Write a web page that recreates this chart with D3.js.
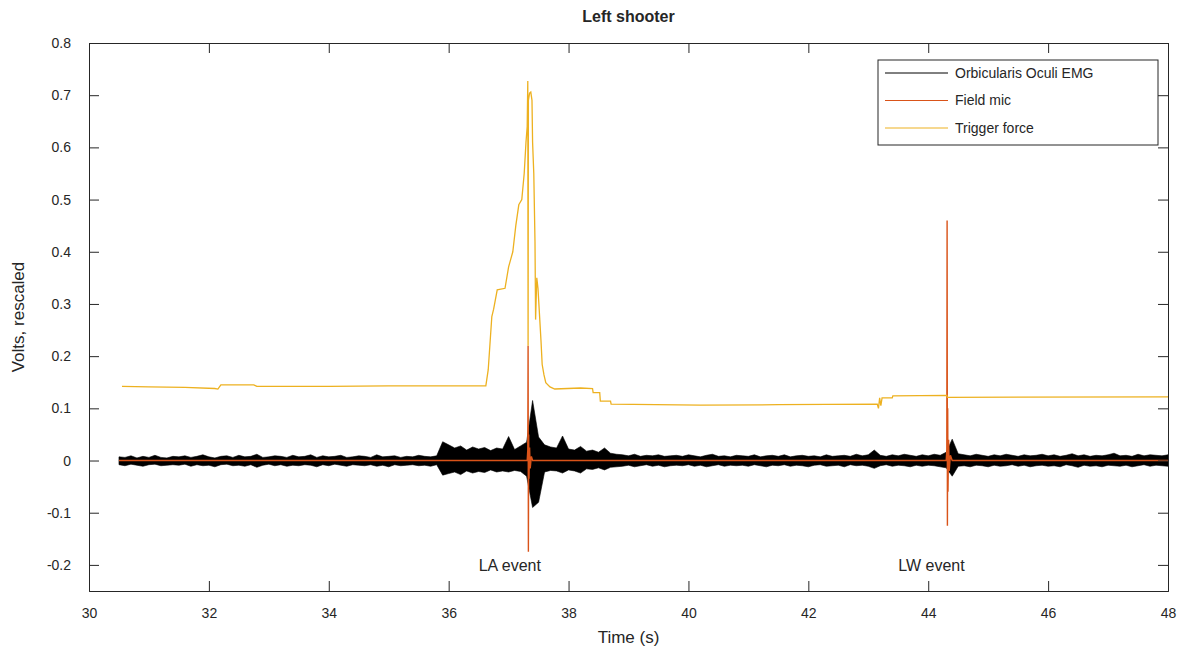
<!DOCTYPE html>
<html lang="en">
<head>
<meta charset="UTF-8">
<title>Left shooter</title>
<style>
  body { margin: 0; background: #fff; }
  text { font-family: "Liberation Sans", Arial, sans-serif; fill: #262626; }
</style>
</head>
<body>
<script src="https://cdn.jsdelivr.net/npm/d3@7"></script>
<div id="chart"></div>
<script>
// EMG envelope, one pair of peaks every 0.1 s from 30.5 s
const emgStart = 30.5, emgStep = 0.1;
const emgHigh = [
  0.007,0.006,0.009,0.005,0.008,0.006,0.010,0.006,0.005,0.008,
  0.007,0.009,0.006,0.008,0.011,0.007,0.005,0.008,0.009,0.006,
  0.010,0.007,0.008,0.012,0.006,0.007,0.009,0.008,0.006,0.010,
  0.007,0.008,0.011,0.006,0.009,0.007,0.008,0.010,0.006,0.007,
  0.009,0.008,0.006,0.011,0.007,0.008,0.009,0.006,0.008,0.007,
  0.010,0.008,0.007,0.009,
  0.036,0.030,0.024,0.028,0.020,0.026,0.022,0.025,0.019,0.024,
  0.022,0.046,0.021,0.028,0.035,0.115,0.045,0.030,0.026,0.024,
  0.047,0.022,0.020,0.027,0.018,0.020,0.016,0.024,0.014,0.012,
  0.011,0.009,0.012,0.008,0.010,0.009,0.011,0.008,0.009,0.010,
  0.008,0.011,0.009,0.007,0.010,0.012,0.008,0.009,0.007,0.010,
  0.009,0.008,0.011,0.007,0.009,0.010,0.008,0.011,0.007,0.009,
  0.010,0.008,0.009,0.007,0.011,0.008,0.009,0.010,0.008,0.012,
  0.009,0.011,0.020,0.010,0.008,0.011,0.009,0.012,0.010,0.008,
  0.011,0.009,0.012,0.010,0.016,0.041,0.013,0.011,0.009,0.012,
  0.010,0.008,0.011,0.009,0.012,0.010,0.008,0.011,0.009,0.010,
  0.012,0.009,0.011,0.008,0.010,0.013,0.009,0.011,0.008,0.010,
  0.009,0.011,0.014,0.009,0.010,0.008,0.012,0.009,0.011,0.010,
  0.009,0.011
];
const emgLow = [
  -0.008,-0.010,-0.007,-0.009,-0.011,-0.008,-0.007,-0.010,-0.009,-0.008,
  -0.009,-0.007,-0.011,-0.008,-0.010,-0.009,-0.012,-0.008,-0.007,-0.010,
  -0.009,-0.011,-0.008,-0.013,-0.009,-0.007,-0.010,-0.008,-0.011,-0.009,
  -0.010,-0.008,-0.009,-0.012,-0.008,-0.010,-0.007,-0.009,-0.011,-0.008,
  -0.009,-0.010,-0.008,-0.011,-0.009,-0.012,-0.008,-0.010,-0.009,-0.008,
  -0.010,-0.009,-0.011,-0.008,
  -0.028,-0.025,-0.022,-0.027,-0.020,-0.024,-0.021,-0.023,-0.018,-0.022,
  -0.020,-0.022,-0.019,-0.021,-0.030,-0.090,-0.080,-0.022,-0.019,-0.020,
  -0.024,-0.018,-0.020,-0.024,-0.016,-0.017,-0.014,-0.018,-0.013,-0.012,
  -0.011,-0.009,-0.012,-0.010,-0.008,-0.011,-0.009,-0.012,-0.010,-0.009,
  -0.010,-0.008,-0.011,-0.009,-0.012,-0.010,-0.008,-0.011,-0.009,-0.010,
  -0.009,-0.011,-0.008,-0.010,-0.012,-0.009,-0.010,-0.008,-0.011,-0.009,
  -0.010,-0.012,-0.009,-0.008,-0.011,-0.010,-0.009,-0.012,-0.008,-0.010,
  -0.009,-0.011,-0.015,-0.010,-0.008,-0.011,-0.009,-0.010,-0.012,-0.009,
  -0.011,-0.009,-0.010,-0.012,-0.014,-0.030,-0.011,-0.010,-0.012,-0.009,
  -0.010,-0.012,-0.009,-0.011,-0.010,-0.008,-0.011,-0.009,-0.012,-0.010,
  -0.009,-0.011,-0.010,-0.012,-0.008,-0.010,-0.013,-0.009,-0.011,-0.010,
  -0.012,-0.009,-0.010,-0.011,-0.009,-0.012,-0.010,-0.008,-0.011,-0.009,
  -0.010,-0.011
];

// field mic
const micTime = [30.5, 37.31, 37.32, 37.325, 37.33, 37.335, 37.34, 37.35, 37.36, 37.38, 37.40,
                 44.30, 44.31, 44.315, 44.32, 44.325, 44.33, 44.34, 44.35, 44.37, 44.40, 48.0];
const micValue = [0, 0, 0.02, 0.22, -0.175, 0.05, -0.035, 0.025, -0.015, 0.008, 0,
                  0, 0.02, 0.46, -0.125, 0.10, -0.06, 0.04, -0.02, 0.01, 0, 0];

// trigger force
const trigTime = [30.55, 31.0, 31.6, 32.1, 32.15, 32.2, 32.75, 32.8, 34.0, 35.0, 36.0, 36.62,
  36.66, 36.72, 36.75, 36.81, 36.94, 37.0, 37.07, 37.12, 37.17, 37.22, 37.26, 37.29, 37.31,
  37.32, 37.325, 37.33, 37.35, 37.37, 37.39, 37.40, 37.42, 37.44, 37.45, 37.47, 37.49, 37.52,
  37.54, 37.56, 37.59, 37.62, 37.69, 37.77, 38.2, 38.4, 38.41, 38.52, 38.53, 38.70, 38.71,
  40.2, 41.5, 43.15, 43.17, 43.19, 43.21, 43.23, 43.40, 43.41, 44.31, 44.32, 48.0];
const trigValue = [0.142, 0.141, 0.140, 0.138, 0.137, 0.145, 0.145, 0.142, 0.142, 0.143, 0.143, 0.143,
  0.174, 0.276, 0.29, 0.327, 0.33, 0.371, 0.40, 0.45, 0.49, 0.50, 0.55, 0.61, 0.64,
  0.727, 0.22, 0.69, 0.704, 0.706, 0.69, 0.61, 0.55, 0.42, 0.27, 0.35, 0.33, 0.27,
  0.23, 0.184, 0.164, 0.149, 0.141, 0.137, 0.139, 0.138, 0.13, 0.13, 0.114, 0.114, 0.108,
  0.106, 0.107, 0.108, 0.10, 0.12, 0.105, 0.12, 0.12, 0.124, 0.125, 0.121, 0.122];

const seriesNames = ["Orbicularis Oculi EMG", "Field mic", "Trigger force"];
const seriesColors = ["#000000", "#D95319", "#EDB120"];

const eventLabels = ["LA event", "LW event"];
const eventLabelX = [36.5, 43.5];
const eventLabelY = -0.2;

const xTicks = [30, 32, 34, 36, 38, 40, 42, 44, 46, 48];
const yTicks = [-0.2, -0.1, 0, 0.1, 0.2, 0.3, 0.4, 0.5, 0.6, 0.7, 0.8];

const W = 1183, H = 652;
const margin = {top: 43, right: 15, bottom: 61, left: 89};

const svg = d3.select("#chart").append("svg")
  .attr("width", W).attr("height", H);

const x = d3.scaleLinear().domain([30, 48]).range([margin.left, W - margin.right]);
const y = d3.scaleLinear().domain([-0.25, 0.8]).range([H - margin.bottom, margin.top]);

const plot = svg.append("g");
plot.append("clipPath").attr("id", "clip").append("rect")
  .attr("x", x(30)).attr("y", y(0.8)).attr("width", x(48) - x(30)).attr("height", y(-0.25) - y(0.8));
const lines = plot.append("g").attr("clip-path", "url(#clip)");

// EMG as a filled band between upper and lower peaks
const emg = emgHigh.map((h, i) => ({t: emgStart + i * emgStep, hi: h, lo: emgLow[i]}));
lines.append("path")
  .datum(emg)
  .attr("fill", seriesColors[0])
  .attr("stroke", seriesColors[0])
  .attr("stroke-width", 0.6)
  .attr("d", d3.area().x(d => x(d.t)).y0(d => y(d.lo)).y1(d => y(d.hi)));

lines.append("path")
  .datum(micTime.map((t, i) => [t, micValue[i]]))
  .attr("fill", "none")
  .attr("stroke", seriesColors[1])
  .attr("stroke-width", 1.4)
  .attr("d", d3.line().x(d => x(d[0])).y(d => y(d[1])));

lines.append("path")
  .datum(trigTime.map((t, i) => [t, trigValue[i]]))
  .attr("fill", "none")
  .attr("stroke", seriesColors[2])
  .attr("stroke-width", 1.3)
  .attr("d", d3.line().x(d => x(d[0])).y(d => y(d[1])));

// axes, MATLAB box with ticks pointing inside
const axCol = "#262626";
const fmt = d => d === 0 ? "0" : d3.format(".1f")(d).replace("\u2212", "-");
const gx = svg.append("g").attr("transform", `translate(0,${y(-0.25)})`)
  .call(d3.axisBottom(x).tickValues(xTicks).tickSize(-10).tickPadding(17).tickFormat(d3.format("d")));
const gxt = svg.append("g").attr("transform", `translate(0,${y(0.8)})`)
  .call(d3.axisTop(x).tickValues(xTicks).tickSize(-10).tickFormat(""));
const gy = svg.append("g").attr("transform", `translate(${x(30)},0)`)
  .call(d3.axisLeft(y).tickValues(yTicks).tickSize(-10).tickPadding(18).tickFormat(fmt));
const gyr = svg.append("g").attr("transform", `translate(${x(48)},0)`)
  .call(d3.axisRight(y).tickValues(yTicks).tickSize(-10).tickFormat(""));
[gx, gxt, gy, gyr].forEach(g => {
  g.select(".domain").attr("stroke", axCol);
  g.selectAll(".tick line").attr("stroke", axCol);
  g.selectAll(".tick text").attr("font-size", 14).attr("fill", axCol)
    .attr("font-family", "Liberation Sans, Arial, sans-serif");
});

// event labels
svg.selectAll(".evt").data(eventLabels).join("text")
  .attr("class", "evt")
  .attr("x", (d, i) => x(eventLabelX[i]))
  .attr("y", y(eventLabelY))
  .attr("dy", "0.35em")
  .attr("font-size", 16)
  .text(d => d);

// titles
svg.append("text").attr("x", (x(30) + x(48)) / 2).attr("y", 22)
  .attr("text-anchor", "middle").attr("font-size", 16).attr("font-weight", "bold")
  .text("Left shooter");
svg.append("text").attr("x", (x(30) + x(48)) / 2).attr("y", 643)
  .attr("text-anchor", "middle").attr("font-size", 17)
  .text("Time (s)");
svg.append("text")
  .attr("transform", `translate(24,${(y(-0.25) + y(0.8)) / 2}) rotate(-90)`)
  .attr("text-anchor", "middle").attr("font-size", 17)
  .text("Volts, rescaled");

// legend
const lg = svg.append("g").attr("transform", "translate(878,60)");
lg.append("rect").attr("width", 280).attr("height", 85)
  .attr("fill", "#fff").attr("stroke", axCol).attr("stroke-width", 1);
seriesNames.forEach((name, i) => {
  const yy = 13 + i * 27.5;
  lg.append("line").attr("x1", 7).attr("x2", 70).attr("y1", yy).attr("y2", yy)
    .attr("stroke", seriesColors[i]).attr("stroke-width", 1);
  lg.append("text").attr("x", 77).attr("y", yy).attr("dy", "0.35em")
    .attr("font-size", 14).text(name);
});
</script>
</body>
</html>
